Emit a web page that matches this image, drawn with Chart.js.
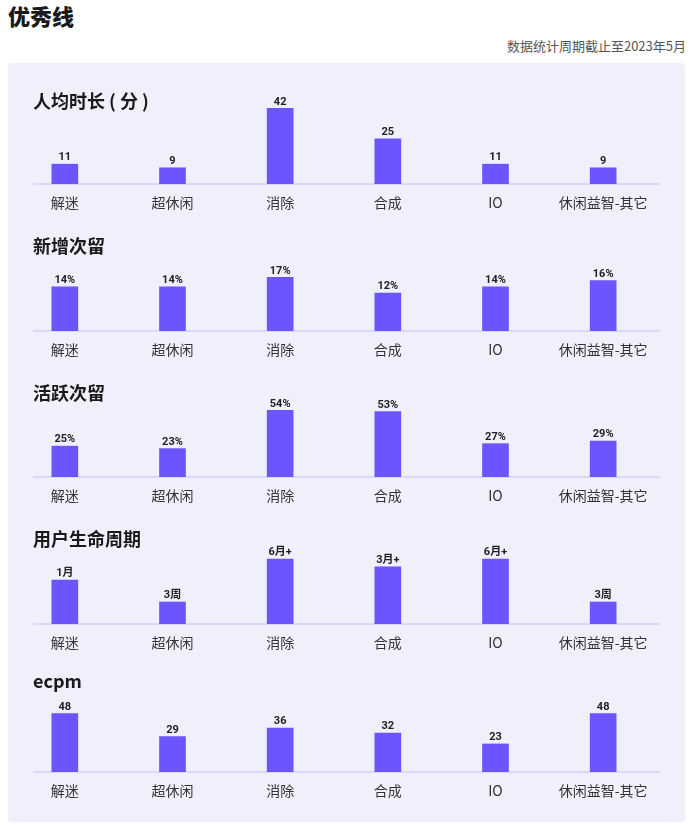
<!DOCTYPE html>
<html>
<head>
<meta charset="utf-8">
<script src="https://cdn.jsdelivr.net/npm/chart.js@4/dist/chart.umd.min.js"></script>
<style>
  body { margin: 0; background: #fff; font-family: "Noto Sans CJK SC", "Noto Sans", sans-serif; }
  #page { position: relative; width: 694px; height: 825px; overflow: hidden; }
  #title { position: absolute; left: 8px; top: 1px; font-size: 22px; line-height: 28px; font-weight: 900; color: #1a1a1a; }
  #sub { position: absolute; right: 8px; top: 37px; font-size: 13px; line-height: 18px; color: #555; }
  #panel { position: absolute; left: 8px; top: 63px; width: 677px; height: 759px; background: #f0effc; border-radius: 4px; }
  .ct { position: absolute; left: 33px; font-size: 18px; line-height: 24px; font-weight: 700; color: #1a1a1a; z-index: 2; }
  canvas { position: absolute; left: 0; }
</style>
</head>
<body>
<div id="page">
  <div id="title">优秀线</div>
  <div id="sub">数据统计周期截止至2023年5月</div>
  <div id="panel"></div>
</div>
<script>
// data
var categories = ['解迷', '超休闲', '消除', '合成', 'IO', '休闲益智-其它'];
var chartTitles = ['人均时长 ( 分 )', '新增次留', '活跃次留', '用户生命周期', 'ecpm'];

var durationValues = [11, 9, 42, 25, 11, 9];
var newRetentionValues = [14, 14, 17, 12, 14, 16];
var activeRetentionValues = [25, 23, 54, 53, 27, 29];
var lifecycleLabels = ['1月', '3周', '6月+', '3月+', '6月+', '3周'];
var lifecycleValues = [2, 1, 2.95, 2.6, 2.95, 1];   // relative heights
var ecpmValues = [48, 29, 36, 32, 23, 48];

function pct(arr) {
    return arr.map(function (v) { return v + '%'; });
}
function plain(arr) {
    return arr.map(function (v) { return String(v); });
}

var sections = [
    { values: durationValues, labels: plain(durationValues), max: 55.5, base: 184, titleY: 88 },
    { values: newRetentionValues, labels: pct(newRetentionValues), max: 31.7, base: 331, titleY: 233 },
    { values: activeRetentionValues, labels: pct(activeRetentionValues), max: 81, base: 477, titleY: 380 },
    { values: lifecycleValues, labels: lifecycleLabels, max: 4.55, base: 624, titleY: 526 },
    { values: ecpmValues, labels: plain(ecpmValues), max: 82, base: 772, titleY: 668 }
];

// value text above each bar + baseline line
var barText = {
    id: 'barText',
    beforeDatasetsDraw: function (chart) {
        var ctx = chart.ctx;
        var y = chart.scales.y.getPixelForValue(0);
        ctx.save();
        ctx.strokeStyle = '#d5d0fc';
        ctx.lineWidth = 1.5;
        ctx.beginPath();
        ctx.moveTo(33, y);
        ctx.lineTo(660, y);
        ctx.stroke();
        ctx.restore();
    },
    afterDatasetsDraw: function (chart) {
        var ctx = chart.ctx;
        var texts = chart.options.plugins.barText.texts;
        ctx.save();
        ctx.font = 'bold 11px Roboto, "Noto Sans CJK SC", sans-serif';
        ctx.fillStyle = '#222';
        ctx.textAlign = 'center';
        ctx.textBaseline = 'bottom';
        chart.getDatasetMeta(0).data.forEach(function (bar, i) {
            ctx.fillText(texts[i], bar.x, bar.y - 1);
        });
        ctx.restore();
    }
};

var page = document.getElementById('page');

sections.forEach(function (s, idx) {
    var t = document.createElement('div');
    t.className = 'ct';
    t.style.top = s.titleY + 'px';
    t.textContent = chartTitles[idx];
    page.appendChild(t);

    var cv = document.createElement('canvas');
    cv.width = 694;
    cv.height = 130;
    cv.style.top = (s.base - 100) + 'px';
    page.appendChild(cv);

    new Chart(cv.getContext('2d'), {
        type: 'bar',
        data: {
            labels: categories,
            datasets: [{
                data: s.values,
                backgroundColor: '#6c54ff',
                barThickness: 26,
                borderSkipped: false
            }]
        },
        options: {
            responsive: false,
            animation: false,
            layout: { padding: { left: 11, right: 37, top: 0, bottom: 0 } },
            plugins: {
                legend: { display: false },
                tooltip: { enabled: false },
                barText: { texts: s.labels }
            },
            scales: {
                x: {
                    grid: { display: false, drawTicks: false },
                    border: { display: false },
                    ticks: {
                        padding: 10,
                        color: '#333',
                        maxRotation: 0,
                        autoSkip: false,
                        font: { size: 14, family: '"Noto Sans CJK SC", sans-serif' }
                    },
                    afterFit: function (scale) { scale.height = 30; }
                },
                y: {
                    display: false,
                    min: 0,
                    max: s.max
                }
            }
        },
        plugins: [barText]
    });
});
</script>
</body>
</html>
